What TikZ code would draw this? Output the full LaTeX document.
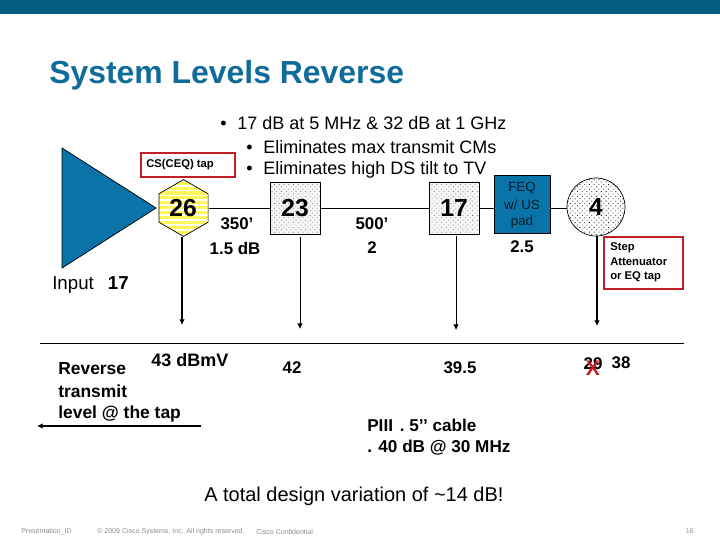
\documentclass[tikz,border=0pt]{standalone}
\usepackage{fontspec}
\setmainfont{Liberation Sans}
\usetikzlibrary{arrows.meta,patterns.meta,shapes.geometric}
\definecolor{ciscoblue}{HTML}{0A73A8}
\definecolor{barblue}{HTML}{035E82}
\definecolor{titleblue}{HTML}{0F6C9A}
\definecolor{tapred}{HTML}{BE2026}
\newcommand{\pxfont}[1]{\fontsize{#1}{#1}\selectfont}
\tikzset{
  boxnum/.style={draw,line width=0.5pt,preaction={fill=black!4},pattern={Dots[distance=2.4pt,angle=45,radius=0.35pt]},pattern color=black!60,minimum width=1.25cm,minimum height=1.3cm,inner sep=0pt},
  numtext/.style={font=\bfseries\pxfont{17.5}},
  lbl/.style={font=\bfseries\pxfont{12}},
  lblleft/.style={lbl,font=\bfseries\pxfont{12.4},anchor=west,inner sep=0pt},
  body/.style={font=\pxfont{12.8},anchor=west,inner sep=0pt},
  tapbox/.style={draw=tapred,line width=1.1pt,inner sep=0pt},
  taptext/.style={font=\bfseries\pxfont{8},anchor=west,inner sep=0pt},
  foot/.style={font=\pxfont{5},text=black!45,anchor=west,inner sep=0pt},
  drop/.style={-{Latex[length=4pt,width=4pt]},line width=0.6pt},
  trunk/.style={line width=0.6pt}
}
\begin{document}
\begin{tikzpicture}[x=0.025cm,y=-0.025cm]
  \useasboundingbox (0,0) rectangle (720,540);
  \fill[barblue] (0,0) rectangle (720,13.5);
  \node[anchor=west,inner sep=0pt,text=titleblue,font=\bfseries\pxfont{22.7}] (title) at (49,75) {System Levels Reverse};
  % bullets
  \node[body] (bulleta) at (220,123) {•\hspace{0.6em}17 dB at 5 MHz \& 32 dB at 1 GHz};
  \node[body] (bulletb) at (246,147) {•\hspace{0.6em}Eliminates max transmit CMs};
  \node[body] (bulletc) at (246,170) {•\hspace{0.6em}Eliminates high DS tilt to TV};
  % amp and devices
  \node[draw,line width=0.5pt,fill=ciscoblue,isosceles triangle,isosceles triangle stretches,minimum width=3cm,minimum height=2.35cm,inner sep=0pt,anchor=apex] (amp) at (157,208) {};
  \node[regular polygon,regular polygon sides=6,shape border rotate=30,minimum size=1.42cm,inner sep=0pt,draw,line width=0.5pt,preaction={fill=yellow!65},pattern={Lines[angle=0,distance=3.5pt,line width=1.3pt]},pattern color=white] (hex) at (183.5,208) {};
  \node[numtext] (hexnum) at (183,208) {26};
  \node[boxnum] (boxa) at (295,208.5) {};
  \node[numtext] at (295,208) {23};
  \node[boxnum] (boxb) at (454,208) {};
  \node[numtext] at (boxb) {17};
  \node[draw,line width=0.5pt,fill=ciscoblue,minimum width=1.4cm,minimum height=1.45cm,inner sep=0pt] (feq) at (522,204) {};
  \node[font=\pxfont{9.5},text=black!75!ciscoblue] at (522,188) {FEQ};
  \node[font=\pxfont{9.5},text=black!75!ciscoblue] at (522,205) {w/ US};
  \node[font=\pxfont{9.5},text=black!75!ciscoblue] at (522,222) {pad};
  \node[circle,draw,line width=0.5pt,preaction={fill=white},pattern={Dots[distance=2.4pt,angle=45,radius=0.42pt]},pattern color=black!90,minimum size=1.45cm,inner sep=0pt] (ampb) at (596,207) {};
  \node[numtext] at (ampb) {4};
  % trunk
  \draw[trunk] (hex.east) -- (boxa.west |- hex.east);
  \draw[trunk] (boxa.east |- hex.east) -- (boxb.west);
  \draw[trunk] (boxb.east) -- (feq.west |- boxb.east);
  \draw[trunk] (feq.east |- boxb.east) -- (ampb.west |- boxb.east);
  % drops
  \coordinate (enda) at (182,325);
  \coordinate (endb) at (300,329);
  \coordinate (endc) at (456,330);
  \coordinate (endd) at (597,326);
  \draw[drop,line width=0.9pt] (enda |- hex.south) -- (enda);
  \draw[drop] (endb |- boxa.south) ++(0,2) -- (endb);
  \draw[drop] (endc |- boxb.south) ++(0,2) -- (endc);
  \draw[drop,line width=1.1pt] (endd |- ampb.south) -- (endd);
  % tap labels
  \node[tapbox,minimum width=2.35cm,minimum height=0.6cm] (cstap) at (188,165) {};
  \node[taptext] at (146,165) {CS(CEQ) tap};
  \node[tapbox,minimum width=1.98cm,minimum height=1.3cm] (steptap) at (643.5,263) {};
  \node[taptext] at (610,248) {Step};
  \node[taptext] at (610,262) {Attenuator};
  \node[taptext] at (610,277) {or EQ tap};
  % values
  \node[lbl] at (237,224) {350’};
  \node[lbl] at (235,248) {1.5 dB};
  \node[lbl] at (372,224) {500’};
  \node[lbl] at (372,248) {2};
  \node[lbl] at (522,247) {2.5};
  \node[anchor=west,inner sep=0pt,font=\pxfont{13.3}] at (52,285) {Input\hspace{0.75em}\bfseries 17};
  \coordinate (levela) at (40,343);
  \coordinate (levelb) at (684,343);
  \draw[trunk] (levela) -- (levelb);
  \node[lbl,font=\bfseries\pxfont{12.8}] at (190,360) {43 dBmV};
  \node[lbl] at (292,368) {42};
  \node[lbl] at (460,368) {39.5};
  \node[lbl] (oldval) at (593,364) {29};
  \node[font=\bfseries\pxfont{15},text=tapred!90!red,inner sep=0pt] at (593,368) {X};
  \node[lbl] at (621,363) {38};
  \node[lblleft] at (58,369) {Reverse};
  \node[lblleft] at (58,391) {transmit};
  \node[lblleft] at (58,414) {level @ the tap};
  \coordinate (revstart) at (201,426);
  \coordinate (revend) at (37,426);
  \draw[drop,line width=1.1pt] (revstart) -- (revend);
  \node[lblleft,font=\bfseries\pxfont{12.2}] at (367,425) {PIII\hspace{0.4em}. 5’’ cable};
  \node[lblleft,font=\bfseries\pxfont{12.2}] at (367,448) {. 40 dB @ 30 MHz};
  \node[body,font=\pxfont{14.2}] at (204,496) {A total design variation of \textasciitilde14 dB!};
  % footer
  \node[foot] at (21,532) {Presentation\_ID};
  \node[foot] at (97,532) {© 2009 Cisco Systems, Inc. All rights reserved.};
  \node[foot] at (256,532) {Cisco Confidential};
  \node[foot,anchor=east] at (694,531) {16};
\end{tikzpicture}
\end{document}
